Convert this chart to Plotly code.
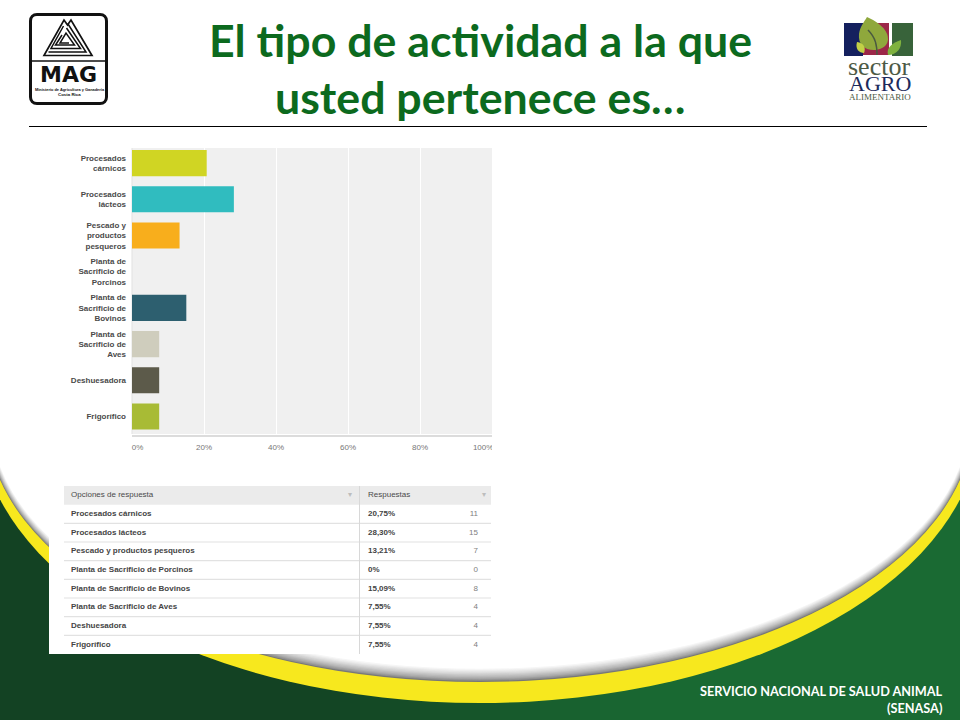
import plotly.graph_objects as go

# ---- data ----
categories = ["Procesados cárnicos", "Procesados lácteos", "Pescado y productos pesqueros",
              "Planta de Sacrificio de Porcinos", "Planta de Sacrificio de Bovinos",
              "Planta de Sacrificio de Aves", "Deshuesadora", "Frigorífico"]
axis_labels = ["Procesados<br>cárnicos", "Procesados<br>lácteos", "Pescado y<br>productos<br>pesqueros",
               "Planta de<br>Sacrificio de<br>Porcinos", "Planta de<br>Sacrificio de<br>Bovinos",
               "Planta de<br>Sacrificio de<br>Aves", "Deshuesadora", "Frigorífico"]
percent_values = [20.75, 28.30, 13.21, 0, 15.09, 7.55, 7.55, 7.55]
percent_labels = ["20,75%", "28,30%", "13,21%", "0%", "15,09%", "7,55%", "7,55%", "7,55%"]
counts = [11, 15, 7, 0, 8, 4, 4, 4]
bar_colors = ["#d0d523", "#30bcbf", "#f8ae1c", "#d0d523", "#2d5f6f", "#cfcdbd", "#5c5a4a", "#a8bb35"]
x_ticks = [0, 20, 40, 60, 80, 100]
x_tick_text = ["\u00a0" * 5 + "0%", "20%", "40%", "60%", "80%", "100%" + "\u00a0" * 8]
table_headers = ["Opciones de respuesta", "Respuestas"]
title_lines = ["El tipo de actividad a la que", "usted pertenece es…"]
footer_lines = ["SERVICIO NACIONAL DE SALUD ANIMAL", "(SENASA)"]

W, H = 960, 720
SANS = "Liberation Sans"


def px(x):
    return x / W


def py(y):
    return 1 - y / H


def P(*pts, close=True):
    s = "M" + " L".join(f"{px(x):.5f},{py(y):.5f}" for x, y in pts)
    return s + (" Z" if close else "")


def C(start, *curves, close=True):
    s = f"M{px(start[0]):.5f},{py(start[1]):.5f}"
    for a, b, c in curves:
        s += f" C{px(a[0]):.5f},{py(a[1]):.5f} {px(b[0]):.5f},{py(b[1]):.5f} {px(c[0]):.5f},{py(c[1]):.5f}"
    return s + (" Z" if close else "")


shapes = []


def rect(x0, y0, x1, y1, fill, layer="below"):
    shapes.append(dict(type="rect", xref="paper", yref="paper", x0=px(x0), x1=px(x1), y0=py(y0), y1=py(y1),
                       fillcolor=fill, line_width=0, layer=layer))


def ell(cx, cy, rx, ry, fill, layer="below"):
    shapes.append(dict(type="circle", xref="paper", yref="paper", x0=px(cx - rx), x1=px(cx + rx),
                       y0=py(cy - ry), y1=py(cy + ry), fillcolor=fill, line_width=0, layer=layer))


def path(d, fill=None, lc=None, lw=0, layer="below"):
    shapes.append(dict(type="path", xref="paper", yref="paper", path=d,
                       fillcolor=fill if fill else "rgba(0,0,0,0)",
                       line=dict(color=lc if lc else "rgba(0,0,0,0)", width=lw), layer=layer))


# green page background with a left-to-right shade
n = 48
for i in range(n):
    x = i * W / n
    t = min(1, max(0, (x - 230) / 470))
    t = t * t * (3 - 2 * t)
    c = (int(19 + t * 7), int(66 + t * 40), int(35 + t * 16))
    rect(x, 440, x + W / n + 1, H, f"rgb{c}")

# yellow band, shadow and white page
ell(480, 420, 500, 283, "#f7e81e")
steps = 12
for i in range(steps):
    t = i / (steps - 1)
    g = int(120 + (t ** 0.7) * 135)
    ell(480, 420, 493 - i * 0.4, 262 - i * 1.2, f"rgb({g},{g},{g})")
ell(480, 420, 488, 248, "#ffffff")
rect(-10, -10, 970, 420, "#ffffff")

# grey chart panel
rect(132, 148, 492, 434, "#f0f0f0")
rect(131.5, 148, 132.5, 434, "#e2e2e2")

# white panel behind the survey table
rect(49, 480, 491, 654, "#ffffff")

# header rule
rect(29, 126, 927, 127, "#000000")

# MAG logo
shapes.append(dict(type="path", xref="paper", yref="paper", layer="below",
                   path=C((37, 14.5), ((33, 14.5), (30.5, 17), (30.5, 21)), close=False)
                   + f" L{px(30.5):.5f},{py(97):.5f}"
                   + f" C{px(30.5):.5f},{py(101):.5f} {px(33):.5f},{py(103.5):.5f} {px(37):.5f},{py(103.5):.5f}"
                   + f" L{px(100):.5f},{py(103.5):.5f}"
                   + f" C{px(104):.5f},{py(103.5):.5f} {px(106.5):.5f},{py(101):.5f} {px(106.5):.5f},{py(97):.5f}"
                   + f" L{px(106.5):.5f},{py(21):.5f}"
                   + f" C{px(106.5):.5f},{py(17):.5f} {px(104):.5f},{py(14.5):.5f} {px(100):.5f},{py(14.5):.5f} Z",
                   fillcolor="#ffffff", line=dict(color="#111111", width=3)))
rect(30, 60.2, 107, 61.8, "#111111")
path(P((44, 55.5), (64, 20), (67.5, 25), (71, 20), (92, 55.5)), lc="#111111", lw=1.7)
for pts in ([(48.5, 52), (86, 52), (68, 24)],
            [(63.5, 26), (51, 48.5), (80.5, 48.5), (66.5, 28)],
            [(62, 35), (55.5, 45), (74.5, 45), (66, 33), (60, 43), (69, 43)]):
    path(P(*pts, close=False), lc="#111111", lw=1.5)

# Sector Agroalimentario logo
rect(844, 23, 863, 56, "#14205e")
rect(863, 23, 889, 55, "#9c2748")
rect(892, 23, 913, 56, "#38633a")
path(C((867, 17), ((878, 22), (889, 30), (888, 40)), ((887, 48), (878, 50), (874, 50)),
       ((864, 50), (858, 44), (859, 34)), ((860, 27), (864, 22), (867, 17))), fill="#8fa83c")
path(C((857, 42), ((864, 43), (866, 48), (864, 53)), ((859, 53), (855, 49), (857, 42))), fill="#c2d146")
path(C((901, 40), ((902, 48), (897, 55), (888, 55)), ((886, 48), (892, 43), (901, 40))), fill="#7fb23f")
path(C((868, 30), ((876, 38), (877, 46), (877, 55)), close=False), lc="#4a5a40", lw=1.5)


# table rules, in the table's own row coordinates
def t_rect(x0, x1, y0, y1, fill):
    shapes.append(dict(type="rect", xref="x2", yref="y2", x0=x0, x1=x1, y0=y0, y1=y1,
                       fillcolor=fill, line_width=0, layer="below"))


t_rect(0, 427, -1.5, -0.5, "#ebebeb")
for i in range(len(categories) - 1):
    t_rect(0, 427, i + 0.47, i + 0.53, "#e2e2e2")
t_rect(295, 296, -1.5, 7.5, "#d8d8d8")

annotations = []


def text(x, y, s, size, color, family=SANS, anchor="center"):
    annotations.append(dict(xref="paper", yref="paper", x=px(x), y=py(y), text=s, showarrow=False,
                            xanchor=anchor, yanchor="middle",
                            font=dict(family=family, size=size, color=color)))


text(480, 40, f"<b>{title_lines[0]}</b>", 44.7, "#0c6a1e", "Lato")
text(480, 97, f"<b>{title_lines[1]}</b>", 44.7, "#0c6a1e", "Lato")
text(68.5, 75, "<b>MAG</b>", 22, "#111111", "DejaVu Sans")
text(69.5, 89, "<b>Ministerio de Agricultura y Ganadería</b>", 3.9, "#111111")
text(69.5, 95, "<b>Costa Rica</b>", 4.4, "#111111")
text(879, 66, "sector", 26, "#4d5a45", "Liberation Serif")
text(879.5, 83, "AGRO", 22, "#1c2a5c", "Liberation Serif")
text(879.5, 97, "ALIMENTARIO", 9, "#4d5a45", "Liberation Serif")
text(944.5, 691, f"<b>{footer_lines[0]}</b>", 12.7, "#ffffff", "Lato", "right")
text(944.5, 708, f"<b>{footer_lines[1]}</b>", 12.7, "#ffffff", "Lato", "right")

rows = list(range(len(categories)))
col1_x, col2_x, col3_x = 7, 304, 414

fig = go.Figure()
fig.add_trace(go.Bar(y=axis_labels, x=percent_values, orientation="h", marker=dict(color=bar_colors, line_width=0),
                     width=0.72, showlegend=False, xaxis="x", yaxis="y"))
fig.add_trace(go.Scatter(x=[col1_x] * len(rows), y=rows, mode="text", text=[f"<b>{c}</b>" for c in categories],
                         textposition="middle right", textfont=dict(family=SANS, size=8, color="#444444"),
                         xaxis="x2", yaxis="y2", hoverinfo="skip", cliponaxis=False))
fig.add_trace(go.Scatter(x=[col2_x] * len(rows), y=rows, mode="text", text=[f"<b>{p}</b>" for p in percent_labels],
                         textposition="middle right", textfont=dict(family=SANS, size=8, color="#444444"),
                         xaxis="x2", yaxis="y2", hoverinfo="skip", cliponaxis=False))
fig.add_trace(go.Scatter(x=[col3_x] * len(rows), y=rows, mode="text", text=[str(c) for c in counts],
                         textposition="middle left", textfont=dict(family=SANS, size=8, color="#808080"),
                         xaxis="x2", yaxis="y2", hoverinfo="skip", cliponaxis=False))
fig.add_trace(go.Scatter(x=[col1_x, col2_x], y=[-1, -1], mode="text", text=table_headers,
                         textposition="middle right", textfont=dict(family=SANS, size=8, color="#4a4a4a"),
                         xaxis="x2", yaxis="y2", hoverinfo="skip", cliponaxis=False))
fig.add_trace(go.Scatter(x=[286, 420], y=[-1, -1], mode="text", text=["▾", "▾"],
                         textposition="middle center", textfont=dict(family=SANS, size=8, color="#bdbdbd"),
                         xaxis="x2", yaxis="y2", hoverinfo="skip", cliponaxis=False))

# clip the last x label at the chart edge
rect(492, 438, 502, 456, "#ffffff", layer="above")

fig.update_layout(
    width=W, height=H, margin=dict(l=0, r=0, t=0, b=0), paper_bgcolor="#ffffff", plot_bgcolor="#ffffff",
    shapes=shapes, annotations=annotations, showlegend=False, bargap=0.28,
    xaxis=dict(domain=[px(132), px(492)], range=[0, 100], tickvals=x_ticks, ticktext=x_tick_text, ticks="",
               showgrid=True, gridcolor="#ffffff", gridwidth=1, zeroline=False, automargin=False,
               showline=True, linecolor="#dcdcdc", linewidth=2, ticklabelstandoff=4,
               tickfont=dict(family=SANS, size=8, color="#777777")),
    yaxis=dict(domain=[py(434.6), py(145)], autorange="reversed", type="category", ticks="", showgrid=False,
               zeroline=False, showline=False, automargin=False,
               ticklabelstandoff=5,
               tickfont=dict(family=SANS, size=8, color="#4a4a4a"),
               tickmode="array", tickvals=axis_labels,
               ticktext=[f"<b>{a.replace('<br>', '</b><br><b>')}</b>" for a in axis_labels]),
    xaxis2=dict(domain=[px(64), px(491)], range=[0, 427], visible=False, anchor="y2", automargin=False),
    yaxis2=dict(domain=[py(654), py(486)], range=[7.5, -1.5], visible=False, anchor="x2", automargin=False),
)
fig.write_html("out.html", post_script="document.body.style.margin='0';", config=dict(displayModeBar=False))
